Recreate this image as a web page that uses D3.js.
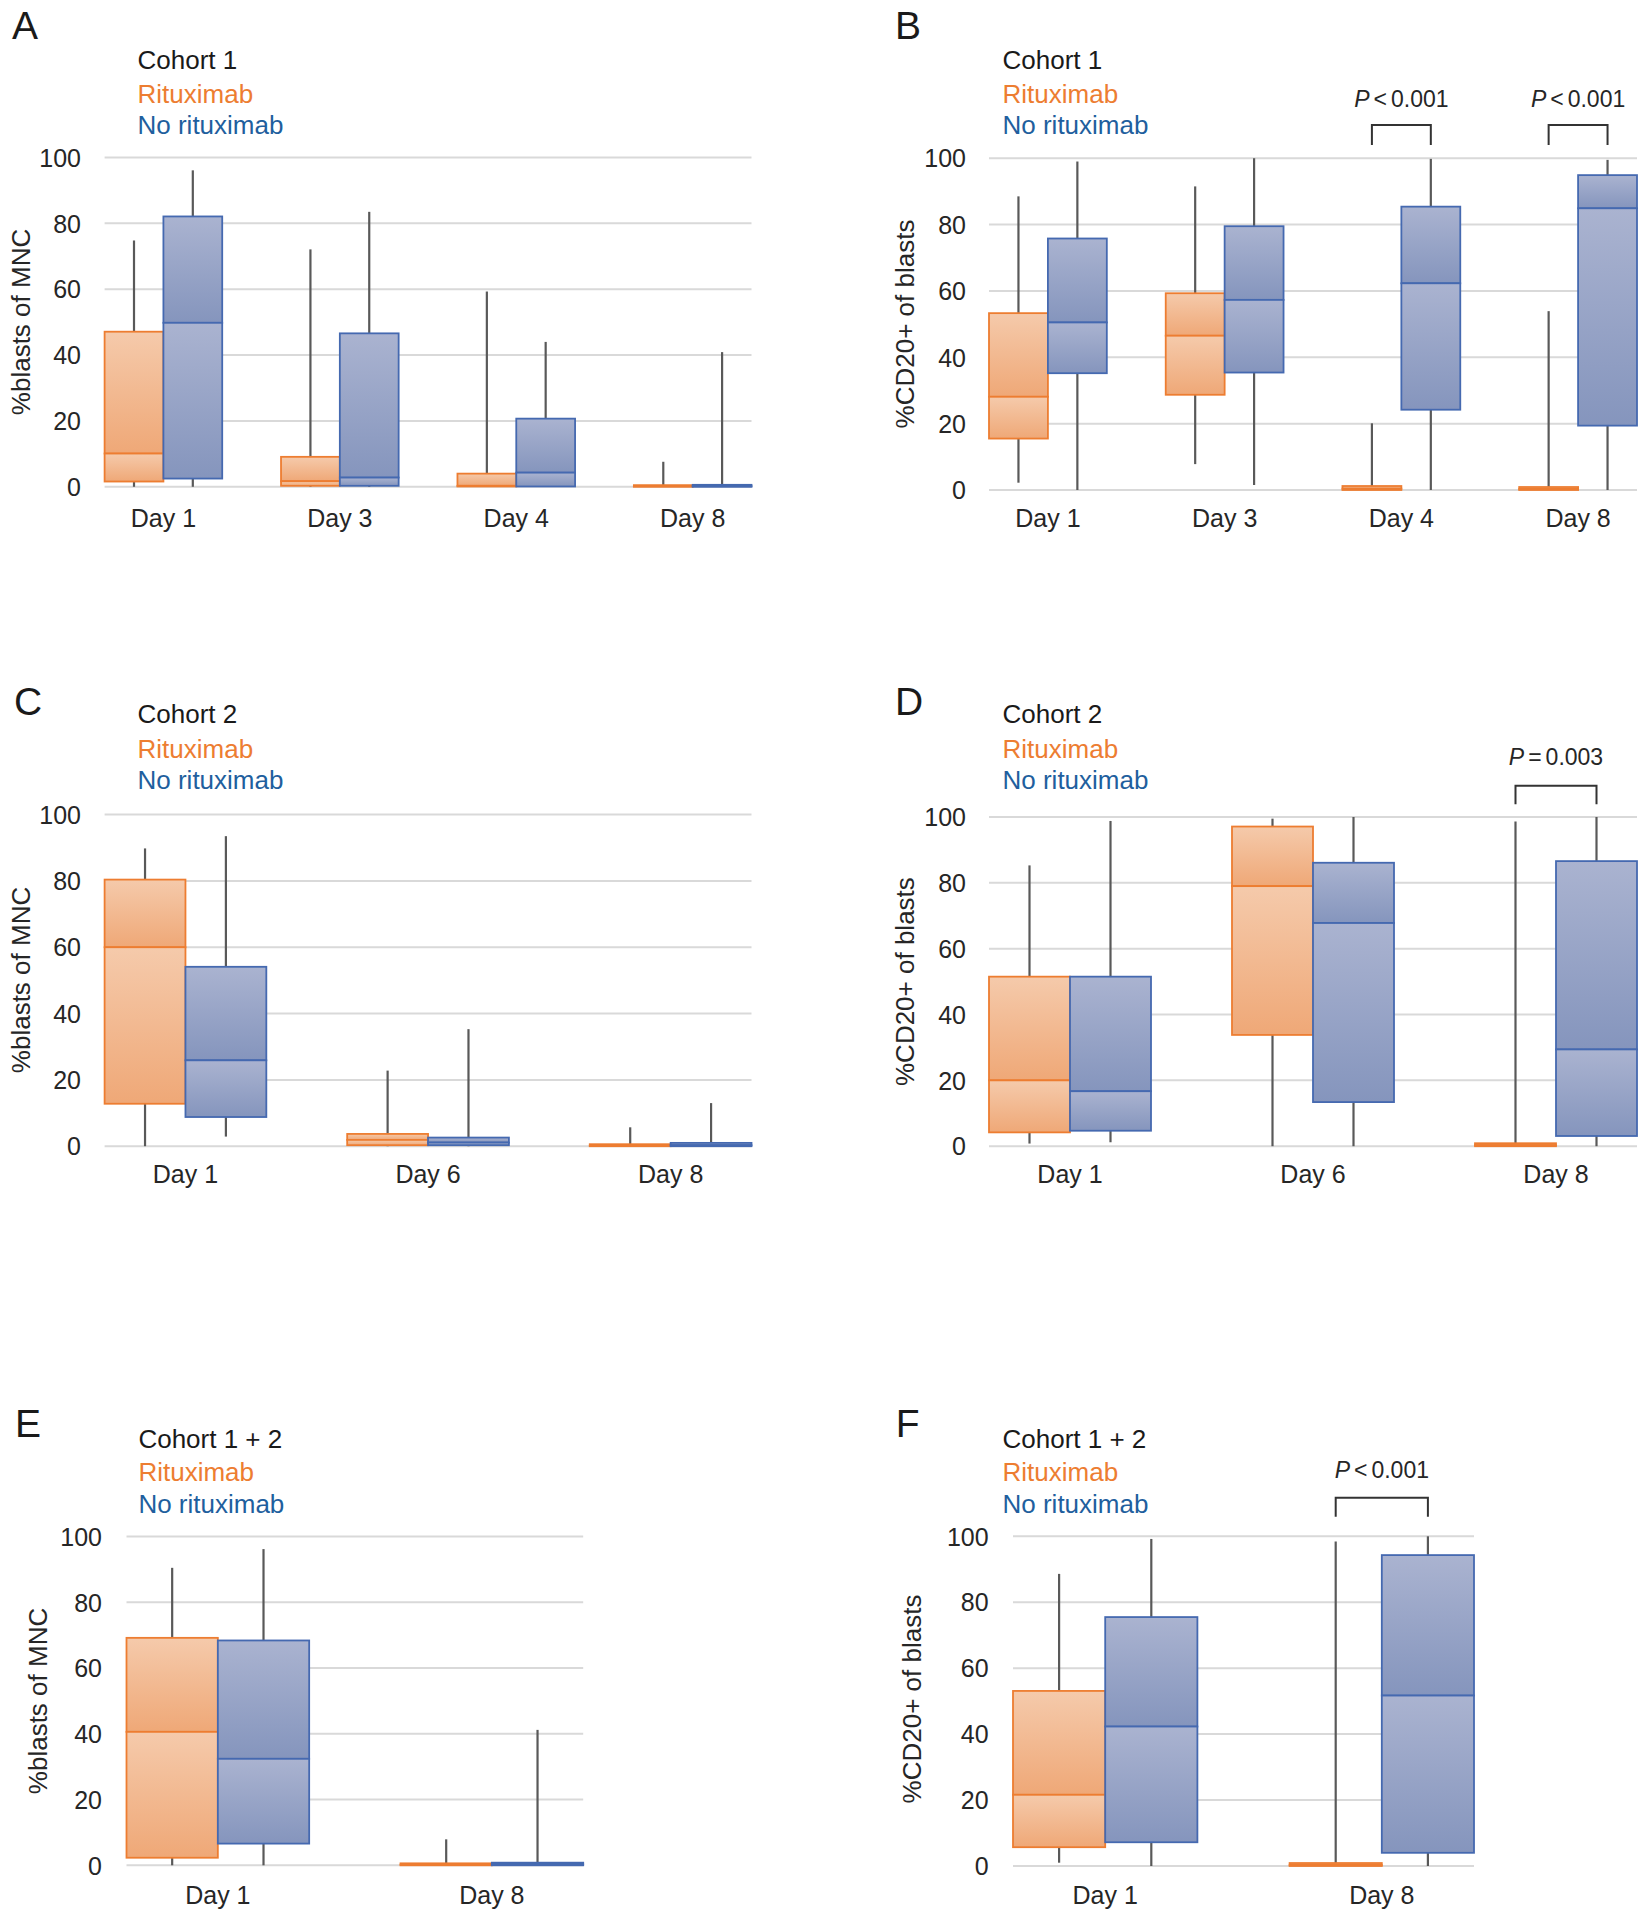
<!DOCTYPE html>
<html>
<head>
<meta charset="utf-8">
<script src="https://cdn.jsdelivr.net/npm/d3@7"></script>
<style>
  html, body { margin: 0; padding: 0; background: #fff; }
  svg { display: block; font-family: "Liberation Sans", Arial, sans-serif; }
</style>
</head>
<body>
<svg id="chart" width="1645" height="1920"></svg>
<script>
// ---------- DATA (each box: [min, q1, median, q3, max]) ----------
const seriesNames = ["Rituximab", "No rituximab"];
const yTickValues = [0, 20, 40, 60, 80, 100];

const daysA = ["Day 1", "Day 3", "Day 4", "Day 8"];
const ritA = [[0, 1.6, 10.1, 47.1, 74.8], [0, 0.3, 1.7, 9.1, 72.1], [0, 0.1, 0.3, 4.0, 59.3], [0, 0, 0.2, 0.5, 7.6]];
const noA  = [[0, 2.5, 49.8, 82.1, 96.1], [0, 0.3, 2.8, 46.6, 83.5], [0, 0.1, 4.3, 20.7, 44.0], [0, 0, 0.2, 0.6, 40.9]];

const daysB = ["Day 1", "Day 3", "Day 4", "Day 8"];
const ritB = [[2.2, 15.5, 28.1, 53.3, 88.5], [7.8, 28.7, 46.5, 59.3, 91.5], [0, 0, 0.4, 1.2, 20.1], [0, 0, 0.3, 0.9, 53.9]];
const noB  = [[0, 35.2, 50.5, 75.8, 99.0], [1.5, 35.4, 57.3, 79.5, 100], [0, 24.2, 62.3, 85.4, 99.8], [0, 19.4, 84.9, 94.9, 99.5]];
const pDaysB = ["Day 4", "Day 8"];
const pOpB = ["<", "<"];
const pValB = ["0.001", "0.001"];

const daysC = ["Day 1", "Day 6", "Day 8"];
const ritC = [[0, 12.8, 60.0, 80.4, 89.8], [0, 0.3, 1.9, 3.7, 22.8], [0, 0, 0.2, 0.6, 5.7]];
const noC  = [[2.9, 8.8, 25.9, 54.1, 93.5], [0, 0.3, 1.1, 2.6, 35.3], [0, 0, 0.3, 1.0, 13.0]];

const daysD = ["Day 1", "Day 6", "Day 8"];
const ritD = [[0.8, 4.2, 20.0, 51.5, 85.3], [0, 33.8, 79.0, 97.1, 99.5], [0, 0, 0.3, 0.9, 98.6]];
const noD  = [[1.2, 4.7, 16.7, 51.5, 98.8], [0, 13.4, 67.8, 86.1, 100], [0, 3.1, 29.4, 86.6, 100]];
const pDaysD = ["Day 8"];
const pOpD = ["="];
const pValD = ["0.003"];

const daysE = ["Day 1", "Day 8"];
const ritE = [[0, 2.3, 40.6, 69.2, 90.5], [0, 0, 0.2, 0.6, 7.9]];
const noE  = [[0, 6.6, 32.4, 68.4, 96.2], [0, 0, 0.3, 0.8, 41.2]];

const daysF = ["Day 1", "Day 8"];
const ritF = [[1.0, 5.7, 21.6, 53.1, 88.6], [0, 0, 0.3, 0.9, 98.4]];
const noF  = [[0, 7.2, 42.3, 75.5, 99.2], [0, 4.0, 51.7, 94.3, 100]];
const pDaysF = ["Day 8"];
const pOpF = ["<"];
const pValF = ["0.001"];

const titleMNC = "%blasts of MNC";
const titleCD20 = "%CD20+ of blasts";

// ---------- STYLE ----------
const C = {
  orangeStroke: "#ED7D31", blueStroke: "#4569B0",
  legendOrange: "#ED7D31", legendBlue: "#1F5F9E",
  whisker: "#595959", grid: "#D9D9D9", text: "#262626"
};

const svg = d3.select("#chart");
const defs = svg.append("defs");
function grad(id, c0, c1) {
  const g = defs.append("linearGradient").attr("id", id)
    .attr("x1", 0).attr("y1", 0).attr("x2", 0).attr("y2", 1);
  g.append("stop").attr("offset", "0%").attr("stop-color", c0);
  g.append("stop").attr("offset", "100%").attr("stop-color", c1);
}
grad("gOrange", "#F5CAAB", "#EFA877");
grad("gBlue", "#AAB3D0", "#8595BD");

svg.append("rect").attr("width", 1645).attr("height", 1920).attr("fill", "#fff");

// ---------- PANEL DRAWER ----------
function drawPanel(cfg) {
  const g = svg.append("g");
  const x = d3.scaleBand().domain(cfg.days).range([cfg.x0, cfg.x1]).paddingInner(1 / 3).paddingOuter(0);
  const xs = d3.scaleBand().domain(seriesNames).range([0, x.bandwidth()]).padding(0);
  const y = d3.scaleLinear().domain([0, 100]).range([cfg.yBot, cfg.yTop]);

  // letter
  g.append("text").attr("x", cfg.lx).attr("y", cfg.ly).attr("font-size", 39)
    .attr("fill", "#1a1a1a").text(cfg.letter);

  // legend
  const leg = [[cfg.cohort, "#1a1a1a"], [seriesNames[0], C.legendOrange], [seriesNames[1], C.legendBlue]];
  leg.forEach((d, i) => {
    g.append("text").attr("x", cfg.legX).attr("y", cfg.legY[i]).attr("font-size", 26)
      .attr("fill", d[1]).text(d[0]);
  });

  // gridlines
  g.append("g").selectAll("line").data(yTickValues).join("line")
    .attr("x1", cfg.x0).attr("x2", cfg.x1)
    .attr("y1", d => y(d)).attr("y2", d => y(d))
    .attr("stroke", C.grid).attr("stroke-width", 2);

  // y axis labels
  const ya = g.append("g").attr("transform", `translate(${cfg.tickX},0)`)
    .call(d3.axisLeft(y).tickValues(yTickValues).tickSize(0).tickPadding(0));
  ya.select(".domain").remove();
  ya.selectAll("text").attr("font-size", 25).attr("fill", C.text)
    .attr("font-family", "Liberation Sans, Arial, sans-serif").attr("dy", "0.35em");

  // y title
  g.append("text").attr("transform", `translate(${cfg.titleX},${cfg.titleY}) rotate(-90)`)
    .attr("text-anchor", "middle").attr("font-size", 26).attr("fill", C.text).text(cfg.title);

  // x labels
  const xa = g.append("g").attr("transform", `translate(0,${cfg.xlabY})`)
    .call(d3.axisBottom(x).tickSize(0).tickPadding(0));
  xa.select(".domain").remove();
  xa.selectAll("text").attr("font-size", 25).attr("fill", C.text).attr("y", 0).attr("dy", 0)
    .attr("font-family", "Liberation Sans, Arial, sans-serif");

  // boxes
  const series = [
    { name: seriesNames[0], vals: cfg.rit, fill: "url(#gOrange)", stroke: C.orangeStroke },
    { name: seriesNames[1], vals: cfg.no, fill: "url(#gBlue)", stroke: C.blueStroke }
  ];
  series.forEach(s => {
    cfg.days.forEach((day, i) => {
      const [mn, q1, md, q3, mx] = s.vals[i];
      const bx = x(day) + xs(s.name);
      const bw = xs.bandwidth();
      const cx = bx + bw / 2;
      // whiskers
      g.append("line").attr("x1", cx).attr("x2", cx).attr("y1", y(mx)).attr("y2", y(q3))
        .attr("stroke", C.whisker).attr("stroke-width", 2.2);
      g.append("line").attr("x1", cx).attr("x2", cx).attr("y1", y(q1)).attr("y2", y(mn))
        .attr("stroke", C.whisker).attr("stroke-width", 2.2);
      // upper and lower segments
      [[md, q3], [q1, md]].forEach(([lo, hi]) => {
        g.append("rect").attr("x", bx).attr("width", bw)
          .attr("y", y(hi)).attr("height", Math.max(0.01, y(lo) - y(hi)))
          .attr("fill", s.fill).attr("stroke", s.stroke).attr("stroke-width", 1.8);
      });
    });
  });

  // significance brackets
  (cfg.pDays || []).forEach((day, i) => {
    const xl = x(day) + xs(seriesNames[0]) + xs.bandwidth() / 2;
    const xr = x(day) + xs(seriesNames[1]) + xs.bandwidth() / 2;
    g.append("path")
      .attr("d", `M${xl},${cfg.brBot}V${cfg.brTop}H${xr}V${cfg.brBot}`)
      .attr("fill", "none").attr("stroke", "#333").attr("stroke-width", 2);
    const t = g.append("text").attr("x", (xl + xr) / 2).attr("y", cfg.pY)
      .attr("text-anchor", "middle").attr("font-size", 23).attr("fill", "#262626");
    t.append("tspan").attr("font-style", "italic").text("P");
    t.append("tspan").attr("dx", 4).text(cfg.pOp[i]);
    t.append("tspan").attr("dx", 4).text(cfg.pVal[i]);
  });
}

const legTop = [68.6, 102.5, 134];
const legMid = [723.4, 757.8, 788.8];
const legBot = [1448, 1481, 1512.8];

drawPanel({ letter: "A", lx: 12, ly: 39.3, cohort: "Cohort 1", legX: 137.5, legY: legTop,
  days: daysA, rit: ritA, no: noA, x0: 104.6, x1: 751.5, yTop: 157.5, yBot: 486.8,
  tickX: 81, title: titleMNC, titleX: 29.5, titleY: 322, xlabY: 527 });

drawPanel({ letter: "B", lx: 895, ly: 39.3, cohort: "Cohort 1", legX: 1002.5, legY: legTop,
  days: daysB, rit: ritB, no: noB, x0: 989, x1: 1637, yTop: 158.2, yBot: 490,
  tickX: 966, title: titleCD20, titleX: 913.5, titleY: 324, xlabY: 527,
  pDays: pDaysB, pOp: pOpB, pVal: pValB, pY: 107, brTop: 125, brBot: 145 });

drawPanel({ letter: "C", lx: 14, ly: 714.5, cohort: "Cohort 2", legX: 137.5, legY: legMid,
  days: daysC, rit: ritC, no: noC, x0: 104.6, x1: 751.5, yTop: 814.6, yBot: 1146.2,
  tickX: 81, title: titleMNC, titleX: 29.5, titleY: 980, xlabY: 1183 });

drawPanel({ letter: "D", lx: 895, ly: 714.5, cohort: "Cohort 2", legX: 1002.5, legY: legMid,
  days: daysD, rit: ritD, no: noD, x0: 989, x1: 1637, yTop: 817, yBot: 1146.2,
  tickX: 966, title: titleCD20, titleX: 913.5, titleY: 981.6, xlabY: 1183,
  pDays: pDaysD, pOp: pOpD, pVal: pValD, pY: 764.7, brTop: 785.7, brBot: 804.3 });

drawPanel({ letter: "E", lx: 15, ly: 1437, cohort: "Cohort 1 + 2", legX: 138.4, legY: legBot,
  days: daysE, rit: ritE, no: noE, x0: 126.5, x1: 583.2, yTop: 1536.6, yBot: 1865.3,
  tickX: 102, title: titleMNC, titleX: 46.7, titleY: 1701, xlabY: 1904 });

drawPanel({ letter: "F", lx: 895.7, ly: 1437, cohort: "Cohort 1 + 2", legX: 1002.5, legY: legBot,
  days: daysF, rit: ritF, no: noF, x0: 1013, x1: 1474, yTop: 1536.3, yBot: 1866,
  tickX: 988.6, title: titleCD20, titleX: 920.6, titleY: 1699, xlabY: 1904,
  pDays: pDaysF, pOp: pOpF, pVal: pValF, pY: 1478, brTop: 1497.8, brBot: 1516.8 });
</script>
</body>
</html>
